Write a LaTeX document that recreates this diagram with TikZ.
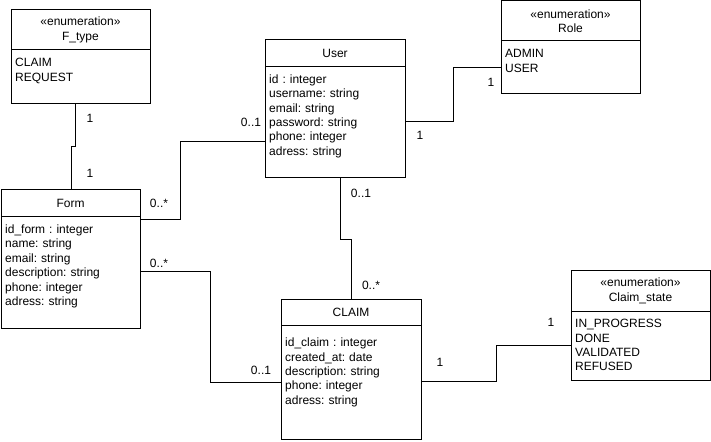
\documentclass[tikz,border=0pt]{standalone}
\usepackage{fontspec}
\setmainfont{Liberation Sans}
\usepackage{xcolor}
\usetikzlibrary{arrows.meta}

\newcommand{\umlfont}{\fontsize{12bp}{14.4bp}\selectfont\frenchspacing}

\tikzset{
  uml/.style={draw,line width=1bp,inner sep=0pt,outer sep=0pt,anchor=north west,font=\umlfont},
  hdr/.style={uml,align=center},
  attrs/.style={anchor=base west,inner sep=0pt,text width=128bp,align=left,font=\umlfont},
  mult/.style={inner sep=0pt,font=\umlfont},
  link/.style={line width=1bp}
}

\begin{document}
\begin{tikzpicture}[x=1bp,y=-1bp]
\useasboundingbox (0,0) rectangle (711,442);

% enumeration F_type
\node[hdr,minimum width=139bp,minimum height=40bp] (ftypeh) at (11,10) {«enumeration»\\F\_type};
\node[uml,minimum width=139bp,minimum height=54bp] (ftypeb) at (ftypeh.south west) {};
\node[attrs] (ftypea) at ([shift={(4,16.7)}]ftypeb.north west) {CLAIM\\REQUEST};

% class User
\node[hdr,minimum width=140bp,minimum height=26.7bp] (userh) at (265,40) {User};
\node[uml,minimum width=140bp,minimum height=111.3bp] (userb) at (userh.south west) {};
\node[attrs] (usera) at ([shift={(4,16.7)}]userb.north west) {id : integer\\username: string\\email: string\\password: string\\phone: integer\\adress: string};

% enumeration Role
\node[hdr,minimum width=139bp,minimum height=40bp] (roleh) at (501,1) {«enumeration»\\Role};
\node[uml,minimum width=139bp,minimum height=53bp] (roleb) at (roleh.south west) {};
\node[attrs] (rolea) at ([shift={(4,16.7)}]roleb.north west) {ADMIN\\USER};

% class Form
\node[hdr,minimum width=139bp,minimum height=26.7bp] (formh) at (1,190) {Form};
\node[uml,minimum width=139bp,minimum height=111.3bp] (formb) at (formh.south west) {};
\node[attrs] (forma) at ([shift={(4,16.7)}]formb.north west) {id\_form : integer\\name: string\\email: string\\description: string\\phone: integer\\adress: string};

% class CLAIM
\node[hdr,minimum width=140bp,minimum height=25.7bp] (claimh) at (281,300) {CLAIM};
\node[uml,minimum width=140bp,minimum height=113.3bp] (claimb) at (claimh.south west) {};
\node[attrs] (claima) at ([shift={(4,21)}]claimb.north west) {id\_claim : integer\\created\_at: date\\description: string\\phone: integer\\adress: string};

% enumeration Claim_state
\node[hdr,minimum width=139bp,minimum height=40bp] (stateh) at (571,271) {«enumeration»\\Claim\_state};
\node[uml,minimum width=139bp,minimum height=69bp] (stateb) at (stateh.south west) {};
\node[attrs] (statea) at ([shift={(4,16.7)}]stateb.north west) {IN\_PROGRESS\\DONE\\VALIDATED\\REFUSED};

% associations
\draw[link] (ftypeb.south -| 75,0) |- (71,147) -- (formh.north -| 71,0);
\draw[link] (userb.west |- 0,142) -| (180,220) -- (formb.east |- 0,220);
\draw[link] (formb.east |- 0,272) -| (210,382) -- (claimb.west |- 0,382);
\draw[link] (userb.south -| 340,0) |- (351,240) -- (claimh.north -| 351,0);
\draw[link] (userb.east |- 0,122) -| (453,67.5) -- (roleb.west |- 0,67.5);
\draw[link] (claimb.east |- 0,381.5) -| (496,345.5) -- (stateb.west |- 0,345.5);

% multiplicities
\node[mult] (m1) at (90,118) {1};
\node[mult] (m2) at (90,173) {1};
\node[mult] (m3) at (251,122) {0..1};
\node[mult] (m4) at (159,203) {0..*};
\node[mult] (m5) at (159,263) {0..*};
\node[mult] (m6) at (261,370) {0..1};
\node[mult] (m7) at (361,193) {0..1};
\node[mult] (m8) at (371,285) {0..*};
\node[mult] (m9) at (420,135) {1};
\node[mult] (m10) at (491,82) {1};
\node[mult] (m11) at (440,362) {1};
\node[mult] (m12) at (551,322) {1};
\end{tikzpicture}
\end{document}
